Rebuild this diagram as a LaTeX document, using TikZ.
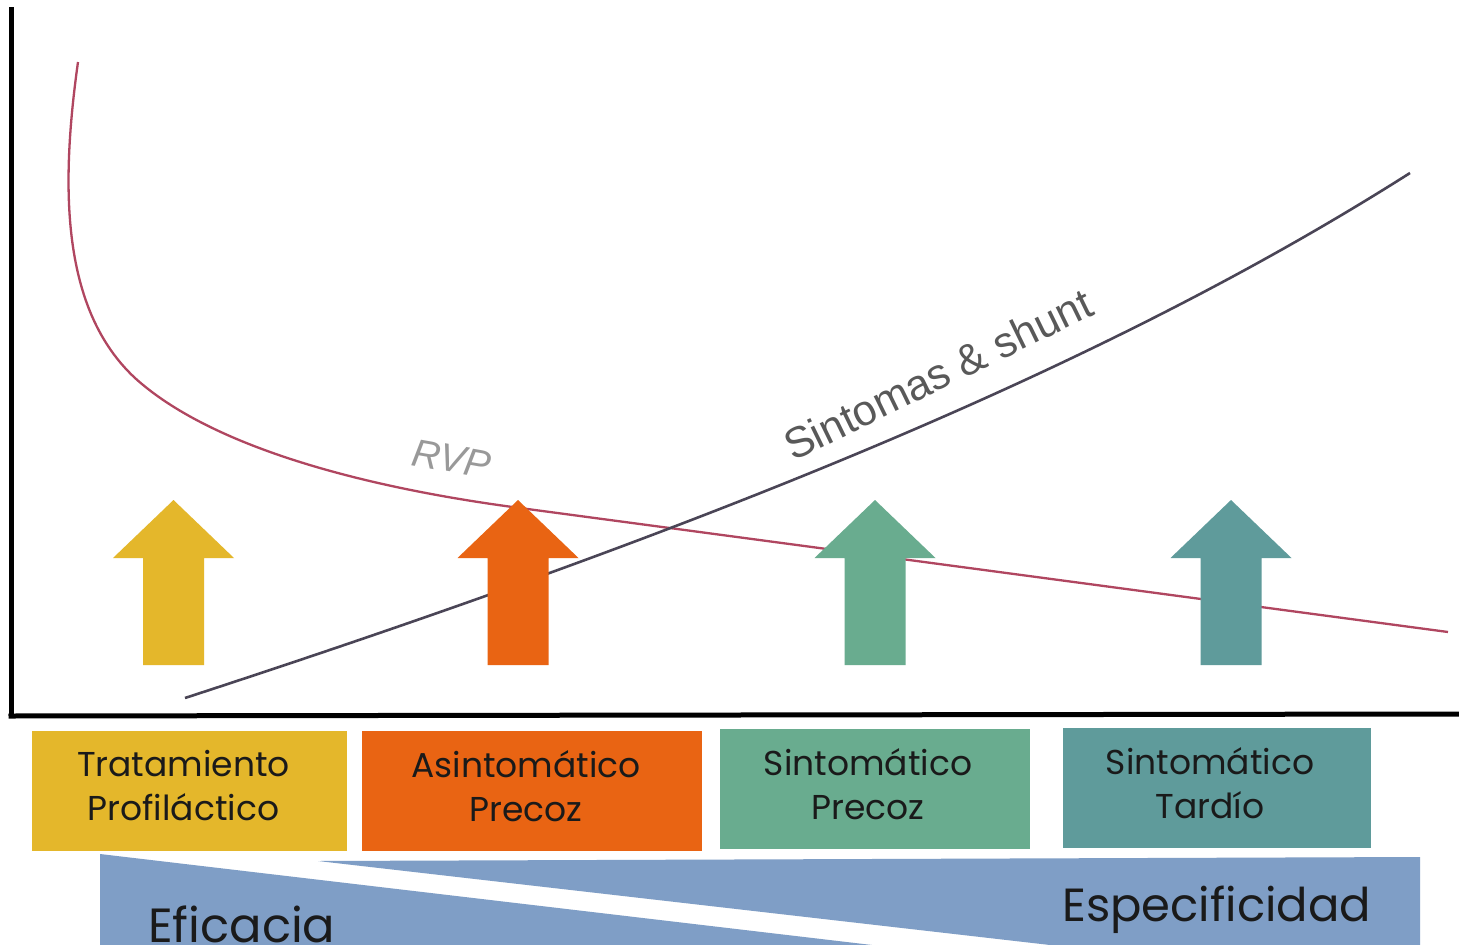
\documentclass[tikz,border=0pt]{standalone}
\usepackage{fontspec}
\setmainfont{Poppins}
\newfontfamily\helv{Liberation Sans}
\definecolor{cyel}{HTML}{E4B72B}
\definecolor{corg}{HTML}{E96413}
\definecolor{cgrn}{HTML}{69AC8F}
\definecolor{ctea}{HTML}{5F9B9B}
\definecolor{cblu}{HTML}{7F9EC6}
\definecolor{cred}{HTML}{B04660}
\definecolor{cgry}{HTML}{4A4556}
\definecolor{ctxt}{HTML}{1A1A1A}
\newcommand{\myuparrow}[2]{%
  \fill[#2] (#1-60.5,558) -- (#1,500) -- (#1+60.5,558) -- (#1+30.5,558) -- (#1+30.5,665) -- (#1-30.5,665) -- (#1-30.5,558) -- cycle;}
\begin{document}
\begin{tikzpicture}[x=1pt,y=-1pt,
  stagebox/.style={fill=#1, draw=none, inner sep=0pt},
  stagetext/.style={text=ctxt, align=center, inner sep=0pt, font=\fontsize{34.5}{44}\selectfont},
  axisline/.style={line width=5pt, black},
  curvelabel/.style={inner sep=0pt, font=\helv\fontsize{43}{43}\selectfont},
  bandtext/.style={text=ctxt, inner sep=0pt, anchor=base west, font=\fontsize{48}{48}\selectfont}]
\useasboundingbox (0,0) rectangle (1459,945);
\fill[white] (0,0) rectangle (1459,945);
% axes
\coordinate (ytop) at (11,7);
\coordinate (orig) at (11,716);
\coordinate (xend) at (1459,714);
\draw[axisline] (ytop) -- (orig);
\draw[axisline] ([xshift=-2.5pt]orig) -- (xend);
% curves
\draw[cred, line width=2.3pt] (78,62) .. controls (60,190) and (62,310) .. (135,378)
   .. controls (210,446) and (360,487) .. (520,508) -- (1448,632);
\draw[cgry, line width=2.6pt] (185,698) .. controls (700,530) and (1100,370) .. (1410,173);
\node[curvelabel, text=black!65, rotate=26, anchor=base west] (lsint) at (793,462) {Sintomas \& shunt};
\node[curvelabel, text=black!40, rotate=-10, anchor=base west, font=\helv\itshape\fontsize{39}{39}\selectfont] (lrvp) at (410,465) {RVP};
% arrows
\myuparrow{173.5}{cyel}
\myuparrow{518}{corg}
\myuparrow{875}{cgrn}
\myuparrow{1231}{ctea}
% boxes
\node[stagebox=cyel, minimum width=315, minimum height=120] (b1) at (189.5,791) {};
\node[stagebox=corg, minimum width=340, minimum height=120] (b2) at (532,791) {};
\node[stagebox=cgrn, minimum width=310, minimum height=120] (b3) at (875,789) {};
\node[stagebox=ctea, minimum width=308, minimum height=120] (b4) at (1217,788) {};
\node[stagetext] (t1) at ([xshift=-6pt,yshift=5pt]b1.center) {Tratamiento\\Profiláctico};
\node[stagetext] (t2) at ([xshift=-6pt,yshift=5pt]b2.center) {Asintomático\\Precoz};
\node[stagetext] (t3) at ([xshift=-7pt,yshift=5pt]b3.center) {Sintomático\\Precoz};
\node[stagetext] (t4) at ([xshift=-7pt,yshift=5pt]b4.center) {Sintomático\\Tardío};
% bottom band
\fill[cblu] (100,854) -- (872,945) -- (100,945) -- cycle;
\fill[cblu] (318,861) -- (1420,857) -- (1420,945) -- (1050,945) -- cycle;
\node[bandtext] (eff) at (148,942) {Eficacia};
\node[bandtext, font=\fontsize{46.5}{46.5}\selectfont] (esp) at (1062,921) {Especificidad};
\end{tikzpicture}
\end{document}
